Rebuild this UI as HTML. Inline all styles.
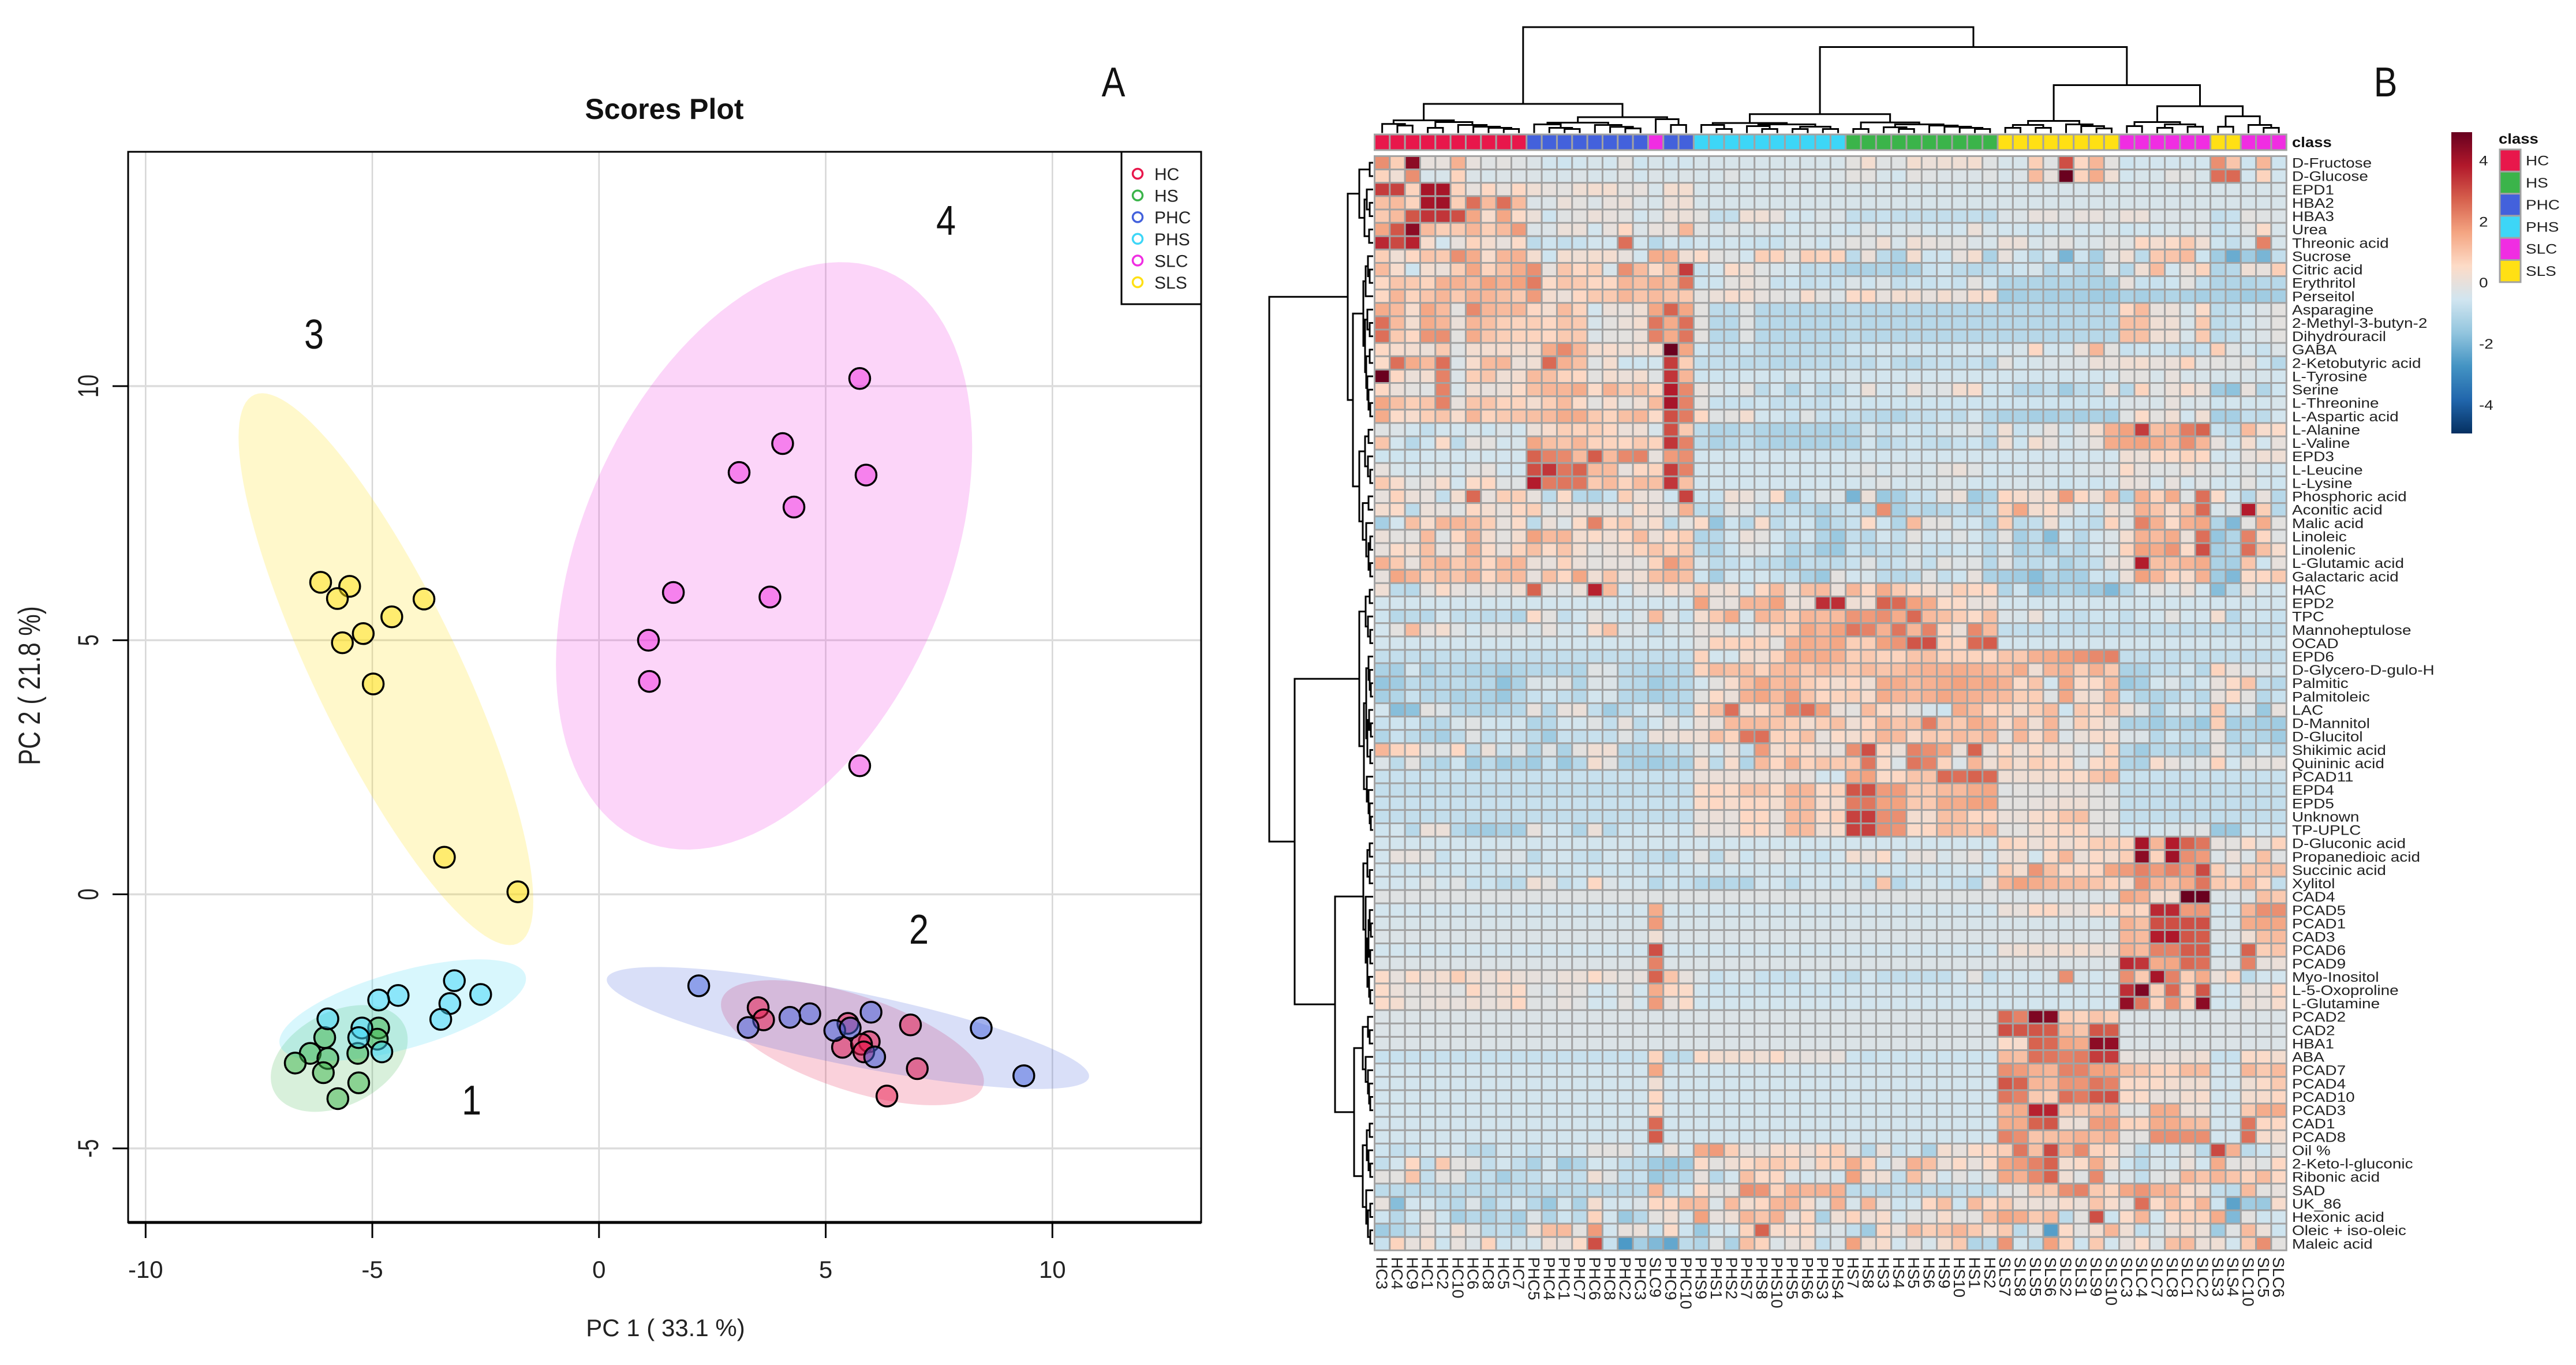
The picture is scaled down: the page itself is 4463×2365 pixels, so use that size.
<!DOCTYPE html>
<html lang="en">
<head>
<meta charset="utf-8">
<title>Scores Plot and Heatmap</title>
<style>
html,body{margin:0;padding:0;background:#fff;}
svg{display:block;font-family:"Liberation Sans",sans-serif;}
</style>
</head>
<body>
<svg id="figure" xmlns="http://www.w3.org/2000/svg" width="4463" height="2365" viewBox="0 0 4463 2365">
  <rect x="0" y="0" width="4463" height="2365" fill="#ffffff"/>
  <defs id="defs"></defs>
  <g id="pca"></g>
  <g id="heat"></g>
</svg>
<script>
/* ---------- PCA data ---------- */
const xTickValues=[-10,-5,0,5,10];
const yTickValues=[-5,0,5,10];
const groupNames=["HC","HS","PHC","PHS","SLC","SLS"];
const scoresHC=[[3.51,-2.23],[3.63,-2.47],[5.49,-2.54],[5.37,-3.01],[5.96,-2.90],[5.79,-2.95],[5.84,-3.10],[6.87,-2.57],[7.02,-3.43],[6.35,-3.97]];
const scoresHS=[[-4.86,-2.63],[-6.05,-2.82],[-5.32,-3.13],[-6.37,-3.13],[-5.98,-3.23],[-6.70,-3.32],[-6.08,-3.51],[-5.30,-3.71],[-5.76,-4.02],[-4.89,-2.85]];
const scoresPHC=[[2.2,-1.80],[4.65,-2.35],[4.21,-2.42],[3.29,-2.62],[6.0,-2.32],[5.2,-2.68],[5.54,-2.63],[6.08,-3.20],[8.43,-2.63],[9.37,-3.57]];
const scoresPHS=[[-3.19,-1.70],[-2.61,-1.97],[-4.43,-1.99],[-4.86,-2.08],[-3.29,-2.15],[-3.49,-2.46],[-5.98,-2.45],[-5.23,-2.63],[-5.30,-2.82],[-4.79,-3.10]];
const scoresSLC=[[5.75,10.15],[4.05,8.87],[3.09,8.3],[5.89,8.25],[4.30,7.62],[1.64,5.94],[3.77,5.85],[1.09,5],[1.11,4.19],[5.75,2.53]];
const scoresSLS=[[-6.14,6.14],[-5.5,6.06],[-5.77,5.82],[-3.86,5.81],[-4.57,5.46],[-5.2,5.13],[-5.66,4.95],[-4.98,4.14],[-3.41,0.73],[-1.79,0.05]];
/* confidence ellipses: centre x, centre y, half extent x, half extent y, correlation */
const ellipseHC=[5.59,-2.92,2.9,1.23,-0.61];
const ellipseHS=[-5.73,-3.23,1.51,1.05,0.35];
const ellipsePHC=[5.49,-2.63,5.32,1.2,-0.79];
const ellipsePHS=[-4.33,-2.28,2.72,1.0,0.62];
const ellipseSLC=[3.64,6.66,4.59,5.78,0.37];
const ellipseSLS=[-4.7,4.43,3.25,5.43,-0.84];

/* ---------- Heatmap data ---------- */
const rowLabels=["D-Fructose","D-Glucose","EPD1","HBA2","HBA3","Urea","Threonic acid","Sucrose","Citric acid","Erythritol","Perseitol","Asparagine","2-Methyl-3-butyn-2","Dihydrouracil","GABA","2-Ketobutyric acid","L-Tyrosine","Serine","L-Threonine","L-Aspartic acid","L-Alanine","L-Valine","EPD3","L-Leucine","L-Lysine","Phosphoric acid","Aconitic acid","Malic acid","Linoleic","Linolenic","L-Glutamic acid","Galactaric acid","HAC","EPD2","TPC","Mannoheptulose","OCAD","EPD6","D-Glycero-D-gulo-H","Palmitic","Palmitoleic","LAC","D-Mannitol","D-Glucitol","Shikimic acid","Quininic acid","PCAD11","EPD4","EPD5","Unknown","TP-UPLC","D-Gluconic acid","Propanedioic acid","Succinic acid","Xylitol","CAD4","PCAD5","PCAD1","CAD3","PCAD6","PCAD9","Myo-Inositol","L-5-Oxoproline","L-Glutamine","PCAD2","CAD2","HBA1","ABA","PCAD7","PCAD4","PCAD10","PCAD3","CAD1","PCAD8","Oil %","2-Keto-l-gluconic","Ribonic acid","SAD","UK_86","Hexonic acid","Oleic + iso-oleic","Maleic acid"];
const columnLabels=["HC3","HC4","HC9","HC1","HC2","HC10","HC6","HC8","HC5","HC7","PHC5","PHC4","PHC1","PHC7","PHC6","PHC8","PHC2","PHC3","SLC9","PHC9","PHC10","PHS9","PHS1","PHS2","PHS7","PHS8","PHS10","PHS5","PHS6","PHS3","PHS4","HS7","HS8","HS3","HS4","HS5","HS6","HS9","HS10","HS1","HS2","SLS7","SLS8","SLS5","SLS6","SLS2","SLS1","SLS9","SLS10","SLC3","SLC4","SLC7","SLC8","SLC1","SLC2","SLS3","SLS4","SLC10","SLC5","SLC6"];
const colorbarTicks=[4,2,0,-2,-4];
/* values are z-scores multiplied by ten */
const heatValues=[
[20,8,44,0,0,14,0,-2,-1,-2,-3,-5,-6,-5,-4,-5,-1,-6,-4,-5,-5,-4,-4,-4,-4,-4,-4,-4,-4,-4,-4,-1,3,-2,-2,3,1,2,2,3,-2,-4,-4,8,-2,30,6,13,-1,-6,-5,-5,-5,-5,-5,20,10,-6,13,-6],
[7,2,20,-4,-4,7,-3,-4,-3,-3,-3,-4,-4,-3,-4,-4,-2,-5,-3,-4,-3,-4,-4,-2,-4,-4,-4,-3,-3,-4,-3,-1,-1,-4,-5,-1,-2,-3,-3,-3,-2,-4,-3,12,0,49,7,15,2,-5,-4,-4,-1,-2,-4,25,26,-5,7,-5],
[33,32,7,40,40,7,0,6,0,6,2,0,-1,2,3,3,-1,0,-4,3,3,-4,-4,-4,-4,-4,-4,-4,-4,-4,-4,-4,-4,-4,-4,-4,-4,-4,-4,-4,-4,-4,-4,-4,-4,-4,-4,-4,-4,-4,-4,-4,-4,-4,-4,-4,-4,-4,-4,-4],
[11,12,7,40,41,8,25,12,25,12,-3,-3,1,-1,-3,0,1,-3,-4,1,2,-4,-4,-4,-4,-4,-4,-4,-4,-4,-4,-4,-4,-4,-4,-4,-4,-4,-4,-4,-4,-4,-4,-4,-4,-4,-4,-4,-4,-4,-4,-4,-4,-4,-4,-4,-4,-4,-4,-4],
[9,12,29,34,34,30,16,4,16,5,1,-6,-2,-1,1,0,-1,-5,-3,1,1,-1,-8,-8,2,2,0,-5,-5,-3,-3,-8,-8,-7,-8,-8,-8,-8,-8,-8,-9,-3,-3,0,0,-2,0,0,-2,1,1,-3,-3,-3,-3,-8,-7,-1,-2,-3],
[16,29,44,12,8,9,13,8,12,18,-3,-3,1,1,-5,0,6,-3,0,0,13,-2,-4,-2,-4,-3,-5,-5,-4,-4,-5,-6,-2,-5,-4,-3,-5,-5,-5,1,-4,-5,-5,-6,-5,-5,-5,-5,-4,-6,-5,-5,-4,-4,-3,-7,-6,-2,5,-4],
[36,31,37,4,-5,0,7,3,0,5,-9,-6,-8,-7,-5,-5,25,-5,-10,-5,-7,-5,-6,-5,-6,-7,-7,-4,-4,-6,-3,-1,-2,2,-4,2,0,-1,-1,-3,-4,1,1,-4,-2,-1,-4,-3,-1,-2,6,3,5,9,2,-6,-8,-4,22,-4],
[8,2,6,10,9,20,15,4,13,14,3,-6,3,2,3,3,0,-5,15,14,2,5,-1,-2,-5,8,7,-1,8,7,7,-9,1,-9,-12,3,-6,-6,0,3,-12,0,-5,-9,-5,-20,-6,-13,-2,2,-9,9,10,12,-6,-14,-22,-14,-20,-8],
[12,4,-6,3,1,8,16,7,11,15,20,0,10,6,8,-4,20,12,5,11,33,-7,-5,5,2,-2,-4,-5,-9,-8,-10,-12,-12,-11,-13,-12,-7,-6,-9,-10,-9,-7,-6,-4,-10,-7,-10,-11,-3,-10,2,12,-5,1,7,-11,-10,2,0,8],
[6,10,9,7,14,14,12,17,14,17,23,5,10,9,6,6,13,11,14,11,24,-6,-6,-1,1,-1,-7,-6,-8,-7,-7,-3,-6,-3,-8,-6,-7,-6,-7,-1,-6,-11,-11,-11,-11,-11,-11,-12,-12,0,-7,-7,-6,-1,-8,-11,-11,-11,-10,-10],
[6,13,7,10,13,9,14,13,11,9,18,3,1,6,9,9,13,10,12,10,9,-1,1,4,3,0,-1,-2,4,-1,-3,5,6,0,3,3,0,3,0,4,4,-14,-13,-12,-13,-13,-13,-14,-14,-12,-13,-12,-11,-12,-13,-12,-13,-14,-14,-13],
[15,12,4,16,12,-1,21,13,12,13,6,3,12,7,-5,1,0,2,16,27,16,-1,-9,-9,-2,-10,-10,-10,-10,-10,-10,-9,-10,-10,-10,-10,-10,-10,-10,-10,-10,-10,-10,-10,-10,-10,-10,-10,-10,6,12,0,1,-4,5,-9,-8,-5,-3,-1],
[25,12,3,15,13,1,13,11,8,7,8,6,10,9,-4,-1,1,3,24,15,25,-1,-10,-10,-2,-10,-10,-10,-10,-10,-10,-9,-10,-10,-10,-10,-10,-10,-10,-10,-10,-10,-10,-10,-10,-10,-10,-10,-10,11,11,2,2,-4,9,-9,-8,-5,-3,-1],
[25,9,6,19,20,-1,15,10,8,7,7,6,9,9,-3,-1,-1,1,22,15,24,-1,-10,-10,-2,-10,-10,-10,-10,-10,-10,-9,-10,-10,-10,-10,-10,-10,-10,-10,-10,-10,-10,-10,-10,-10,-10,-10,-10,11,11,2,2,-4,9,-9,-8,-4,-3,-1],
[6,4,3,1,9,-2,3,3,4,3,3,15,21,13,3,4,2,3,4,49,16,-6,-8,-8,-7,-9,-9,-9,-9,-9,-9,-6,-6,-5,-6,-5,-6,-6,-5,-5,-5,-5,-4,6,-5,-5,1,13,-1,-7,-6,-6,-7,-8,-7,8,-2,-5,-7,-3],
[5,25,15,12,25,-3,4,12,13,1,2,26,14,11,-2,3,-6,-6,-5,33,8,-8,-8,-8,-9,-9,-10,-10,-9,-9,-9,-8,-9,-6,-9,-10,-8,-7,-8,-7,-10,-1,-5,-4,-3,-3,-3,1,0,2,3,0,1,7,-2,-1,-2,-1,-6,-10],
[49,6,1,3,22,-3,8,10,2,3,12,11,7,6,-1,3,1,3,-2,34,13,-6,-6,-6,-5,-5,-6,-4,-5,-6,-4,-4,-5,-5,-5,-5,-5,-5,-5,-5,-5,-5,-5,-5,-5,-5,-5,-5,-5,-1,-1,-4,0,-4,-4,-4,-4,-4,-4,-5],
[6,1,-1,-2,22,-4,2,0,1,5,11,13,13,15,5,14,9,11,6,38,21,0,-3,-5,-1,-9,-5,-11,-5,-9,-9,-5,1,-5,-5,1,-3,-2,3,4,-6,-6,-10,-10,-8,-14,-9,-8,1,-10,7,-2,1,4,1,-14,-17,0,-11,-6],
[16,11,8,10,22,0,10,10,7,7,3,8,12,5,-1,4,-1,2,12,40,22,-1,-7,-7,-7,-6,-8,-7,-7,-8,-6,-5,-6,-6,-6,-6,-6,-6,-6,-6,-6,-6,-6,-6,-6,-6,-6,-6,-6,-3,-3,-4,0,-4,-3,-6,-5,-5,-5,-4],
[15,5,4,8,10,4,13,7,9,10,11,12,15,15,9,7,11,13,5,30,23,6,-2,-1,3,-5,-5,-7,-2,-7,-7,-8,-9,-10,-11,-8,-8,-7,-9,-5,-10,-12,-12,-13,-13,-12,-13,-12,-13,-2,5,-1,2,-5,2,-13,-13,-8,-9,-5],
[-2,-3,-5,-8,-5,-5,-4,-6,-3,-5,1,4,8,7,8,6,1,2,-4,30,9,-9,-11,-11,-9,-11,-12,-12,-11,-12,-12,-11,-4,-8,-5,-6,-7,-4,-4,-2,-8,2,-7,-4,0,-6,-2,3,14,17,33,11,13,23,27,-7,-9,12,4,5],
[10,-5,-10,-6,5,-9,0,-1,-5,-4,16,11,10,13,7,7,6,9,7,34,22,-9,-12,-10,-8,-11,-12,-12,-12,-12,-11,-12,-5,-10,-8,-6,-8,-9,-7,-6,-10,2,-6,3,0,-5,-3,0,15,16,17,15,12,20,13,0,-6,3,-5,0],
[-6,-6,-6,-5,-5,-5,-5,-5,-5,-5,27,22,21,12,28,12,21,22,0,18,20,-5,-5,-5,-5,-5,-5,-5,-5,-5,-5,-5,-5,-5,-5,-5,-5,-5,-5,-5,-5,-5,-5,-5,-5,-5,-5,-5,-5,2,1,5,5,7,6,-5,-5,0,2,2],
[0,-4,-5,-4,-3,-5,-2,0,-5,-5,30,34,24,27,12,12,0,6,7,33,22,-5,-5,-5,-5,-5,-5,-5,-5,-5,-5,-4,-2,-5,-3,-4,-4,-1,1,-2,-5,-5,-5,-4,-4,-5,-4,-3,-3,5,0,-2,-2,1,-2,-2,-5,-2,-5,-5],
[9,4,-2,0,4,-5,5,6,-2,-2,38,23,24,24,9,12,7,12,11,34,11,-5,-5,-5,-5,-5,-5,-5,-5,-5,-5,-5,-4,-2,-5,-4,-4,-3,-4,-5,-6,-4,-4,-4,-5,-6,-5,-6,-5,1,0,-5,0,-5,-2,-5,-5,-1,-5,-6],
[0,7,1,0,-8,3,26,0,8,8,0,-9,5,-10,-11,-7,8,1,0,-6,32,-6,-7,2,1,-3,5,-13,-6,-3,-3,-20,1,-15,-13,-7,-7,-1,1,-14,-11,6,4,2,4,18,6,1,12,-11,14,7,15,-2,25,5,-5,-10,0,-10],
[3,5,-9,1,0,-2,6,3,0,6,8,-2,1,0,0,-1,-2,4,1,-1,14,-9,-9,-1,-3,-8,-8,-8,-9,-12,-8,-7,-10,20,-13,-9,-11,-10,-8,-11,-9,8,16,3,5,0,-5,-7,2,-1,14,10,4,11,26,-4,-2,38,8,-10],
[-13,-5,11,4,13,13,12,8,0,5,-9,1,-3,5,22,6,9,1,4,-9,-1,5,-16,-6,-10,4,-9,-6,-6,-13,-9,-7,5,-6,-11,12,-1,-1,-6,-5,-11,8,-9,-8,2,-6,-7,-9,7,-2,22,14,5,14,16,-11,-19,-1,15,-1],
[1,-1,-1,12,-2,6,14,3,-1,3,17,12,13,3,5,2,5,12,1,6,8,-11,-10,-5,1,-1,-5,-9,-5,-11,-15,-8,-10,-5,-8,-1,-5,-5,-2,-5,-9,-1,-13,-9,-18,-5,-10,-5,-3,3,14,12,15,1,25,-16,-11,22,6,-2],
[0,5,3,11,0,2,14,5,0,7,11,5,10,3,-1,1,2,7,10,7,9,-9,-11,-6,-2,-3,-6,-11,-9,-14,-15,-7,-10,-8,-9,-4,-7,-7,-6,-5,-10,-4,-12,-9,-13,-8,-10,-5,-4,7,17,15,19,5,30,-13,-11,25,11,4],
[14,9,0,11,13,9,12,6,12,13,1,0,7,1,-1,0,0,-1,7,18,12,-4,-9,-8,-6,-9,-9,-13,-8,-9,-9,-7,-2,-8,-7,-3,-8,-1,-3,-2,-10,-2,-9,-9,-7,-12,-9,-8,0,1,38,11,11,13,15,-12,-13,10,-6,0],
[0,16,13,8,11,10,14,6,11,12,0,11,6,16,2,10,1,2,11,13,11,-6,-13,-5,-6,-5,-7,-8,-12,-15,-1,-5,-4,-9,-10,-9,-2,-8,-6,0,-12,-13,-14,-18,-11,-13,-13,-6,-7,1,17,13,7,4,14,-14,-19,5,6,9],
[2,-9,-10,-1,5,0,-2,0,-2,2,27,-1,-3,1,37,12,-5,0,-1,4,0,9,1,3,-5,6,12,1,11,12,1,13,6,15,9,5,3,1,8,6,6,-11,-6,-16,-13,-11,-13,-14,-19,-10,-5,-1,-4,1,-5,-18,-9,1,-5,-5],
[-5,-5,-5,-5,-5,-5,-5,-5,-5,-5,-5,-5,-5,-5,-5,-5,-5,-5,-5,-5,-5,17,0,0,13,13,17,1,1,35,35,2,2,27,26,17,15,5,5,0,1,-5,-5,-5,-5,-5,-5,-5,-5,-5,-5,-5,-5,-5,-5,-5,-5,-5,-5,-5],
[-6,-10,-9,-10,-5,-8,-8,-9,-8,-11,5,-1,-8,-5,-1,-4,-6,-3,12,-2,-7,3,9,15,-4,13,11,8,13,12,12,19,18,20,15,26,12,11,8,5,11,-3,-4,1,-5,-7,-8,-6,-6,-8,-5,-5,-1,-5,-5,3,-10,-5,-6,-7],
[-5,-1,12,0,3,-2,-5,-2,-2,-2,-4,0,-4,-5,4,11,-3,-3,-8,-4,-4,0,-1,-4,-4,0,7,8,16,13,17,24,22,14,24,13,22,6,1,21,12,-8,-8,-8,-8,-8,-8,-8,-8,-8,-8,-8,-8,-8,-8,-8,-8,-8,-8,-8],
[-5,-5,-5,-5,-5,-5,-5,-5,-5,-5,-5,-5,-5,-5,-5,-5,-5,-5,-5,-5,-5,-1,7,7,7,7,-1,14,15,14,16,8,8,17,19,29,30,7,6,26,28,-5,-5,-5,-5,-5,-5,-5,-5,-5,-5,-5,-5,-5,-5,-5,-5,-5,-5,-5],
[-8,-8,-8,-8,-8,-8,-8,-8,-8,-8,-8,-8,-8,-8,-8,-8,-8,-8,-8,-8,-8,7,-5,-5,3,2,7,15,15,15,14,8,9,7,7,10,11,7,7,7,6,10,9,14,15,17,19,21,22,-8,-8,-8,-8,-8,-8,-8,-8,-8,-8,-8],
[-12,-13,-5,-12,-9,-10,-11,-11,-13,-11,-10,-10,-10,-11,-2,-3,-9,-10,-11,-10,-10,7,12,11,11,7,12,12,9,12,10,9,12,10,11,13,14,14,15,14,13,11,15,2,13,14,8,14,9,-12,-12,-8,-8,-5,-10,7,0,-3,-3,-5],
[-16,-14,-9,-10,-10,-9,-10,-10,-17,-12,-3,-4,-2,-11,-3,-3,-9,-10,-14,-11,-10,-5,-1,4,11,16,12,14,8,6,3,6,2,15,15,12,14,15,17,15,16,14,5,10,-5,16,5,5,12,-15,-13,-5,-3,-8,-5,0,5,10,-8,-10],
[-13,-11,-7,-10,-10,-12,-11,-12,-15,-10,-7,-6,-8,-10,-5,-4,-10,-11,-13,-11,-10,-1,5,1,14,16,12,18,10,6,7,8,4,15,13,12,14,16,15,14,13,12,8,8,-2,16,3,2,12,-7,-11,-11,-10,-7,-10,0,5,-1,-10,-7],
[-5,-18,-17,-1,-3,-10,-11,-11,-10,-10,0,-10,0,1,-8,-14,-9,-6,-3,-9,-10,5,11,25,3,5,10,21,25,17,1,-1,12,5,3,-1,-4,-6,15,12,6,7,3,8,12,-6,9,5,10,2,-2,-12,-5,-3,-7,9,-7,-3,-15,0],
[-7,-6,-6,-9,-10,-4,-2,-5,-6,-5,-11,-10,-5,-5,-2,-8,0,-9,-5,-1,-5,1,0,12,12,12,10,8,3,8,11,2,6,13,10,11,23,10,9,15,13,4,12,2,13,-2,8,4,1,-12,-12,-14,-11,-12,-15,8,-13,-12,-13,-14],
[-11,-7,-9,-11,-13,-9,-2,-8,-6,-8,-9,-14,-7,-8,-7,-8,-2,-8,1,1,2,2,11,7,24,25,7,7,11,0,5,3,7,13,12,4,9,8,12,10,13,-1,13,4,12,-3,1,4,4,-3,-3,-10,-6,-8,-8,0,-11,-9,-11,-14],
[13,7,6,-1,-2,6,-9,1,-7,-2,-11,-2,-12,-1,2,2,-11,-11,-11,-9,-8,-1,-5,1,-8,18,3,7,4,1,0,20,30,6,1,22,20,16,1,27,0,6,1,5,1,2,-3,-3,7,-10,-14,-10,-10,-11,-12,0,-8,-11,-6,-10],
[-3,-9,-1,-9,-11,-6,-14,-9,-14,-12,-14,-7,-15,-10,3,-1,-11,-13,-14,-12,-12,3,-9,4,-11,12,6,14,7,10,9,9,24,5,-3,24,22,7,-3,13,2,8,3,8,6,5,-3,5,7,-11,-12,4,0,-3,-2,7,-5,-1,-1,0],
[-7,-7,-7,-7,-7,-7,-7,-7,-7,-7,-7,-7,-7,-7,-7,-7,-7,-7,-7,-7,-7,1,1,1,1,1,1,0,0,-5,-5,15,17,5,6,10,10,26,25,27,26,2,2,3,3,5,5,10,12,-7,-7,-7,-7,-7,-7,-7,-7,-7,-7,-7],
[-8,-8,-8,-8,-8,-8,-8,-8,-8,-8,-8,-8,-8,-8,-8,-8,-8,-8,-8,-8,-8,5,6,5,10,10,5,13,13,5,7,29,30,18,18,9,9,12,12,15,16,-2,-1,-1,-1,0,0,-1,-2,-8,-8,-8,-8,-8,-8,-8,-8,-8,-8,-8],
[-7,-7,-7,-7,-7,-7,-7,-7,-7,-7,-7,-7,-7,-7,-7,-7,-7,-7,-7,-7,-7,5,6,4,6,6,3,12,12,4,3,23,24,17,17,9,9,15,15,17,17,-1,-1,0,1,2,2,-1,-1,-8,-8,-8,-8,-8,-8,-8,-8,-8,-8,-8],
[-8,-8,-8,-8,-8,-8,-8,-8,-8,-8,-8,-8,-8,-8,-8,-8,-8,-8,-8,-8,-8,0,1,0,6,6,0,12,12,5,7,32,33,20,20,3,3,11,11,6,6,1,1,4,5,10,11,-1,-1,-8,-8,-8,-8,-8,-8,-8,-8,-8,-8,-8],
[-6,-5,-10,1,1,-10,-13,-14,-12,-13,0,-5,-6,-11,1,-10,-6,-6,-5,-5,-6,1,0,0,6,6,0,12,12,2,4,32,32,20,19,5,6,12,11,9,12,-1,-1,3,4,6,6,-1,-1,-6,-6,-5,-4,-3,-2,-15,-15,-6,-6,-7],
[-5,-5,-5,-5,-5,-5,-5,-5,-5,-5,-5,-5,-5,-5,-5,-5,-5,-5,-5,-5,-5,-5,-5,-5,-5,-5,-5,-5,-5,-5,-5,-5,-5,-5,-5,-5,-5,-5,-5,-5,-5,7,5,1,5,2,5,8,8,7,40,13,38,27,24,0,-1,5,-1,7],
[-5,0,0,-1,-7,-5,-5,-7,-3,-3,-9,-5,-5,-7,-8,-5,-5,-8,-8,-10,-5,-1,-9,-1,-6,-3,-1,-4,-6,-7,-5,3,1,5,-5,0,0,-4,-2,0,-5,1,2,-5,5,13,1,5,3,8,44,7,41,20,18,-3,1,-3,11,-2],
[-5,-6,-6,-6,-6,-6,-6,-6,-6,-6,-6,-6,-6,-6,-6,-6,-6,-6,-6,-6,-6,-5,-5,-5,-5,-5,-5,-5,-5,-5,-5,-6,-6,-6,-6,-6,-6,-6,-5,-5,-6,8,3,19,11,5,6,6,16,18,22,18,22,18,31,8,-2,9,10,11],
[-5,-5,-5,-2,-5,-2,-7,-6,-9,-9,2,-1,-8,-6,6,-3,-5,-5,-10,-6,-7,-10,-11,-10,-11,-5,-5,-9,-5,-5,-6,-4,-8,10,-10,-6,-4,-6,-7,-10,0,13,17,15,13,12,12,10,7,3,20,13,11,15,24,9,7,13,6,-8],
[-2,-2,-2,-2,-2,-2,-2,-2,-2,-2,-2,-2,-2,-2,-2,-2,-2,-2,-2,-2,-2,-2,-2,-2,-2,-2,-2,-2,-2,-2,-2,-2,-2,-2,-2,-2,-2,-2,-2,-2,-2,-3,-3,-3,-3,-3,-3,-3,-3,16,14,3,3,49,49,-3,-3,-3,11,9],
[-5,-5,-5,-5,-5,-5,-5,-5,-5,-5,-5,-5,-5,-5,-5,-5,-5,-5,15,-5,-5,-5,-5,-5,-5,-5,-5,-5,-5,-5,-5,-5,-5,-5,-5,-5,-5,-5,-5,-5,-5,1,0,5,6,1,0,5,6,7,6,36,36,18,19,-5,-5,13,20,20],
[-4,-4,-4,-4,-4,-4,-4,-4,-4,-4,-4,-4,-4,-4,-4,-4,-4,-4,18,-4,-4,-4,-4,-4,-4,-4,-4,-4,-4,-4,-4,-4,-4,-4,-4,-4,-4,-4,-4,-4,-4,-4,-4,-4,-4,-4,-4,-4,-4,14,11,30,30,30,30,-4,-4,15,16,16],
[-3,-3,-3,-3,-3,-3,-3,-3,-3,-3,-3,-3,-3,-3,-3,-3,-3,-3,2,-3,-3,-3,-3,-3,-3,-3,-3,-3,-3,-3,-3,-3,-3,-3,-3,-3,-3,-3,-3,-3,-3,-3,-3,-3,-3,-3,-3,-3,-3,13,12,38,39,29,28,-3,-3,2,11,12],
[-5,-5,-5,-5,-5,-5,-5,-5,-5,-5,-5,-5,-5,-5,-5,-5,-5,-5,30,-5,-5,-5,-5,-5,-5,-5,-5,-5,-5,-5,-5,-5,-5,-5,-5,-5,-5,-5,-5,-5,-5,1,2,2,2,3,3,2,1,14,12,22,22,28,28,-5,-5,27,8,10],
[-3,-3,-3,-3,-3,-3,-3,-3,-3,-3,-3,-3,-3,-3,-3,-3,-3,-3,22,-3,-3,-3,-3,-3,-3,-3,-3,-3,-3,-3,-3,-3,-3,-3,-3,-3,-3,-3,-3,-3,-3,-3,-3,-3,-3,-3,-3,-3,-3,36,34,15,16,26,25,-3,-3,22,0,1],
[5,0,5,2,3,8,3,1,4,1,0,-1,1,1,5,1,-1,0,27,10,0,-3,-7,-5,-4,-7,-7,-8,-5,-4,-7,-9,-5,-8,-8,-8,-8,-8,-5,-1,-8,-5,-5,-5,-4,20,-4,-5,-4,20,9,40,22,8,15,1,7,-9,-5,-5],
[5,1,-1,0,0,-2,6,0,3,5,-2,-3,0,-1,-5,-5,-1,-5,15,6,5,-5,-6,-6,-6,-6,-6,-6,-6,-6,-6,-5,-5,-5,-5,-5,-5,-5,-5,-5,-5,-5,-5,-5,-5,-5,-5,-5,-5,35,46,8,26,7,29,-5,-5,1,0,6],
[5,3,-1,0,1,0,2,0,2,6,-2,-2,0,-2,-5,-5,-1,-5,18,0,5,-5,-5,-5,-5,-5,-5,-5,-5,-5,-5,-5,-5,-5,-5,-5,-5,-5,-5,-5,-5,-5,-5,-5,-5,-5,-5,-5,-5,43,24,7,20,7,44,-5,-5,1,0,4],
[-3,-3,-3,-3,-3,-3,-3,-3,-3,-3,-3,-3,-3,-3,-3,-3,-3,-3,-3,-3,-3,-3,-3,-3,-3,-3,-3,-3,-3,-3,-3,-3,-3,-3,-3,-3,-3,-3,-3,-3,-3,26,22,46,45,8,7,10,8,-3,-3,-3,-3,-3,-3,-3,-3,-3,-3,-3],
[-3,-3,-3,-3,-3,-3,-3,-3,-3,-3,-3,-3,-3,-3,-3,-3,-3,-3,-3,-3,-3,-3,-3,-3,-3,-3,-3,-3,-3,-3,-3,-3,-3,-3,-3,-3,-3,-3,-3,-3,-3,30,29,29,28,12,10,29,28,-3,-3,-3,-3,-3,-3,-3,-3,-3,-3,-3],
[-3,-3,-3,-3,-3,-3,-3,-3,-3,-3,-3,-3,-3,-3,-3,-3,-3,-3,-3,-3,-3,-3,-3,-3,-3,-3,-3,-3,-3,-3,-3,-3,-3,-3,-3,-3,-3,-3,-3,-3,-3,5,4,27,26,16,15,44,43,-3,-3,-3,-3,-3,-3,-3,-3,-3,-3,-3],
[-7,-7,-7,-7,-7,-7,-7,-7,-7,-7,-7,-7,-7,-7,-7,-7,-7,-7,7,-9,-9,5,3,3,3,2,5,0,0,0,0,-6,-7,-6,-6,-6,-6,-6,-6,-6,-6,12,11,25,24,22,23,33,33,0,-1,0,0,1,2,-7,-7,5,5,3],
[-5,-5,-5,-5,-5,-5,-5,-5,-5,-5,-5,-5,-5,-5,-5,-5,-5,-5,16,-5,-5,-5,-5,-5,-5,-5,-5,-5,-5,-5,-5,-5,-5,-5,-5,-5,-5,-5,-5,-5,-5,20,18,14,13,22,22,17,17,11,10,7,7,12,12,-5,-5,13,9,12],
[-5,-5,-5,-5,-5,-5,-5,-5,-5,-5,-5,-5,-5,-5,-5,-5,-5,-5,2,-5,-5,-5,-5,-5,-5,-5,-5,-5,-5,-5,-5,-5,-5,-5,-5,-5,-5,-5,-5,-5,-5,29,27,13,12,19,19,24,22,5,5,5,3,2,3,-5,-5,2,5,9],
[-5,-5,-5,-5,-5,-5,-5,-5,-5,-5,-5,-5,-5,-5,-5,-5,-5,-5,6,-5,-5,-5,-5,-5,-5,-5,-5,-5,-5,-5,-5,-5,-5,-5,-5,-5,-5,-5,-5,-5,-5,24,22,9,8,25,23,29,30,5,5,0,0,3,4,-5,-5,3,4,6],
[-5,-5,-5,-5,-5,-5,-5,-5,-5,-5,-5,-5,-5,-5,-5,-5,-5,-5,6,-5,-5,-5,-5,-5,-5,-5,-5,-5,-5,-5,-5,-5,-5,-5,-5,-5,-5,-5,-5,-5,-5,13,15,37,37,9,9,12,14,-2,-2,15,15,1,1,-5,-5,9,15,15],
[-5,-5,-5,-5,-5,-5,-5,-5,-5,-5,-5,-5,-5,-5,-5,-5,-5,-5,26,-5,-5,-5,-5,-5,-5,-5,-5,-5,-5,-5,-5,-5,-5,-5,-5,-5,-5,-5,-5,-5,-5,15,15,27,29,2,1,18,18,7,7,15,15,12,11,-5,-5,24,6,6],
[-5,-5,-5,-5,-5,-5,-5,-5,-5,-5,-5,-5,-5,-5,-5,-5,-5,-5,28,-5,-5,-5,-5,-5,-5,-5,-5,-5,-5,-5,-5,-5,-5,-5,-5,-5,-5,-5,-5,-5,-5,22,20,10,11,12,14,12,14,-1,-1,20,20,20,20,-5,-5,25,4,3],
[-6,-8,-7,-5,-5,-5,-9,-10,-5,-6,-7,-5,-5,-5,-1,-1,-1,-5,-6,1,-5,15,18,8,0,-1,4,4,1,6,8,-2,-10,1,-7,-5,-12,3,0,5,6,8,24,11,31,13,21,7,6,-2,-9,-5,-6,-1,-9,31,14,-9,-6,-1],
[-8,-5,6,-8,9,-1,-1,-8,-5,-8,-12,-5,-14,-11,-5,-5,-8,-9,-14,-15,-14,5,-1,2,5,8,9,7,-1,7,7,15,7,-5,0,14,11,1,5,0,5,16,18,22,27,3,5,15,3,-6,-10,-4,-5,1,-5,15,-1,0,-2,6],
[-1,-1,10,-8,-1,-1,-9,-8,-13,-9,-8,-5,-8,-8,2,-2,-8,-7,-15,-12,-10,0,-10,-5,11,5,6,-4,-5,-3,-5,17,3,2,-8,11,2,-5,-1,-4,-1,16,14,21,27,2,-2,21,-3,-3,-8,-2,-1,13,10,13,10,7,12,6],
[-9,-9,-9,-9,-9,-9,-9,-9,-9,-9,-9,-9,-9,-9,-9,-9,-9,-9,13,-8,-6,6,-1,-1,20,19,7,14,13,14,14,-9,-9,-10,-8,-9,-9,-9,-8,-8,-9,-2,-1,9,9,20,22,9,7,16,19,14,13,4,2,-8,-9,12,-1,0],
[0,-18,-5,-5,-8,-10,-3,-12,-7,-5,-10,-15,-5,-12,3,-5,-5,-3,6,6,12,12,-3,12,3,6,13,13,4,-3,14,-4,13,0,-6,-5,6,11,-6,12,5,9,1,1,1,4,1,10,4,0,25,5,11,6,13,-6,-24,-14,-15,4],
[-6,-10,-6,-1,-6,-13,-10,-12,-9,-13,-3,-11,-6,-9,7,-5,-15,-10,-1,2,-4,17,0,2,13,10,14,0,6,-12,2,7,1,4,-5,-1,-1,4,-1,-1,11,16,15,9,12,-9,-1,30,-6,5,13,-5,6,7,7,15,-19,-1,-6,-5],
[-14,-11,-8,0,-5,2,-2,-9,-8,-11,2,11,12,-1,18,-5,0,1,-7,5,-6,-15,-5,-5,7,27,4,5,5,-3,-3,-8,-14,6,1,12,8,10,13,9,3,9,-9,-1,-25,5,-1,3,13,2,-8,-4,0,3,1,-14,-2,12,1,-6],
[-7,7,0,3,-6,0,-3,7,-6,-4,-5,2,0,5,30,-7,-26,-13,-19,-23,-9,-11,-2,-12,11,7,-3,0,3,-8,-3,17,2,4,-5,0,-4,3,9,-11,-10,19,-5,-9,17,7,-6,9,-5,0,5,-3,11,12,1,2,-5,9,20,-1]
];
/* dendrograms: [merge height, child, child]; numbers are leaf indices */
const columnTree=[183.5,
 [50.5,
  [22,[15.7,0,[13,1,2]],[19,[9,3,4],[14,5,[11,6,[9,7,[7,8,9]]]]]],
  [27.5,[18,[15,10,[9,11,[7,12,13]]],[14,14,[10.7,15,[8,16,17]]]],[24,18,[14,19,20]]]],
 [149,
  [32.7,
   [17.4,[14,21,[7,22,23]],[15,[12,24,[7,25,26]],[11,[7,27,28],[7,29,30]]]],
   [18.4,[7,31,32],[15,[10,33,[7,34,35]],[13,36,[11,37,[9,38,[7,39,40]]]]]]],
  [83,
   [21,[14,[9,41,42],[9,43,44]],[15,45,[12,46,[8,47,48]]]],
   [46.5,
    [19,[12,49,50],[15,[9,51,52],[11,53,54]]],
    [29,[11,55,56],[14,57,[9,58,59]]]]]]];
const rowTree=[180,
 [44,
  [24,[6,0,1],[15,[11,2,[6,3,4]],[7,5,6]]],
  [35,
   [17,[13,[9,7,[6,8,9]],10],[14,[10,11,[6,12,13]],[12,[6,14,15],[10,16,[8,17,[5,18,19]]]]]],
   [24,[14,[8,20,21],[9,22,[5,23,24]]],[18,[8,25,26],[12,27,[8,[5,28,29],[5,30,31]]]]]]],
 [136,
  [24,
   [13,[6,32,33],[9,34,[5,35,36]]],
   [16,[12,[8,37,[6,38,[4,39,40]]],[10,[7,41,[4,42,43]],[5,44,45]]],[11,46,[8,47,[6,48,[4,49,50]]]]]],
  [66,
   [17,
    [10,[6,51,52],[6,53,54]],
    [13,55,[10,[8,[6,56,[4,57,58]],[5,59,60]],[7,61,[5,62,63]]]]],
   [33,
    [18,[9,64,[6,65,66]],[13,67,[9,68,[7,69,[5,70,71]]]]],
    [18,[11,[6,72,73],[8,74,[5,75,76]]],[12,77,[9,[5,78,79],[5,80,81]]]]]]]];

/* ---------- helpers ---------- */
const NS='http://www.w3.org/2000/svg';
function make(tag,attrs,parent){
  const e=document.createElementNS(NS,tag);
  for(const k in attrs)e.setAttribute(k,attrs[k]);
  parent.appendChild(e);
  return e;
}
const pca=document.getElementById('pca');
const heat=document.getElementById('heat');
const defs=document.getElementById('defs');
const classColors={HC:'#e8174b',HS:'#3bb44a',PHC:'#4361dc',PHS:'#3dd6f7',SLC:'#f02de2',SLS:'#ffe014'};

/* axis functions */
const xScale=v=>1037.8+78.55*v;
const yScale=v=>1549.5-88.05*v;
const plotLeft=222,plotRight=2081,plotTop=263,plotBottom=2118;

/* grid */
xTickValues.forEach(v=>{
  const l=make('line',{x1:xScale(v),x2:xScale(v),y1:plotTop,y2:plotBottom,stroke:'#d6d6d6','stroke-width':2.5},pca);
  
  
});
yTickValues.forEach(v=>{
  const l=make('line',{x1:plotLeft,x2:plotRight,y1:yScale(v),y2:yScale(v),stroke:'#dcdcdc','stroke-width':3.5},pca);
  
  
});

/* ellipses */
const ellipses={HC:ellipseHC,HS:ellipseHS,PHC:ellipsePHC,PHS:ellipsePHS,SLC:ellipseSLC,SLS:ellipseSLS};
groupNames.forEach(g=>{
  const [cx,cy,sx,sy,r]=ellipses[g];
  const phi=Math.acos(r);
  let pts=[];
  for(let i=0;i<120;i++){
    const t=i/120*Math.PI*2;
    pts.push(xScale(cx+sx*Math.cos(t)).toFixed(1)+','+yScale(cy+sy*Math.cos(t-phi)).toFixed(1));
  }
  const p=make('polygon',{points:pts.join(' '),fill:classColors[g],'fill-opacity':g==='SLS'?0.22:0.2},pca);
  
  
});

/* points */
const scores={HC:scoresHC,HS:scoresHS,PHC:scoresPHC,PHS:scoresPHS,SLC:scoresSLC,SLS:scoresSLS};
groupNames.forEach(g=>{
  scores[g].forEach(pt=>{
    const c=make('circle',{cx:xScale(pt[0]),cy:yScale(pt[1]),r:18,fill:classColors[g],'fill-opacity':0.5,stroke:'#000','stroke-width':3.5},pca);
    
    
  });
});

/* box */
const box=make('rect',{x:plotLeft,y:plotTop,width:plotRight-plotLeft,height:plotBottom-plotTop,fill:'none',stroke:'#000','stroke-width':3},pca);


const floor=make('line',{x1:plotLeft,x2:plotRight,y1:plotBottom,y2:plotBottom,stroke:'#000','stroke-width':5},pca);



/* ticks */
xTickValues.forEach(v=>{
  const t=make('line',{x1:xScale(v),x2:xScale(v),y1:plotBottom,y2:plotBottom+27,stroke:'#000','stroke-width':3},pca);
  
  
  const s=make('text',{x:xScale(v),y:2214,'font-size':42,'text-anchor':'middle',fill:'#222'},pca);
  s.textContent=String(v);
  
  
});
yTickValues.forEach(v=>{
  const t=make('line',{x1:plotLeft-27,x2:plotLeft,y1:yScale(v),y2:yScale(v),stroke:'#000','stroke-width':3},pca);
  
  
  const s=make('text',{transform:'translate(170,'+yScale(v)+') rotate(-90) scale(0.9,1.25)','font-size':40,'text-anchor':'middle',fill:'#222'},pca);
  s.textContent=String(v);
  
  
});

/* titles */
const title=make('text',{x:1151,y:206,'font-size':50,'font-weight':'bold','text-anchor':'middle',fill:'#111'},pca);
title.textContent='Scores Plot';


const xTitle=make('text',{x:1153,y:2315,'font-size':42,'text-anchor':'middle',fill:'#222'},pca);
xTitle.textContent='PC 1 ( 33.1 %)';


const yTitle=make('text',{transform:'translate(69,1188) rotate(-90) scale(1,1.25)','font-size':42,'text-anchor':'middle',fill:'#222'},pca);
yTitle.textContent='PC 2 ( 21.8 %)';



/* plot legend */
const lgBox=make('rect',{x:1943,y:263,width:138,height:264,fill:'#fff',stroke:'#000','stroke-width':3},pca);


groupNames.forEach((g,i)=>{
  const yy=301+37.6*i;
  const c=make('circle',{cx:1971,cy:yy,r:8.5,fill:'none',stroke:classColors[g],'stroke-width':3.5},pca);
  
  
  const s=make('text',{x:2000,y:yy+11,'font-size':30,fill:'#222'},pca);
  s.textContent=g;
  
  
});

/* panel markers and cluster numbers */
const panelMarks=[['A',1929,167],['B',4133,167],['1',817,1931],['2',1592,1635],['3',544,604],['4',1639,407]];
panelMarks.forEach(m=>{
  const s=make('text',{transform:'translate('+m[1]+','+m[2]+') scale(0.85,1)','font-size':72,'text-anchor':'middle',fill:'#111'},m[0]==='B'?heat:pca);
  s.textContent=m[0];
  
  
});

/* ---------- heatmap ---------- */
const palette=['#053061','#2166ac','#4393c3','#92c5de','#d1e5f0','#fddbc7','#f4a582','#d6604d','#b2182b','#67001f'];
const zMin=-4.94,zMax=4.94;
function hex(c){return [parseInt(c.slice(1,3),16),parseInt(c.slice(3,5),16),parseInt(c.slice(5,7),16)];}
function colorFor(z){
  const t=Math.max(0,Math.min(0.99999,(z-zMin)/(zMax-zMin)))*(palette.length-1);
  const i=Math.floor(t),f=t-i,a=hex(palette[i]),b=hex(palette[i+1]);
  return 'rgb('+[0,1,2].map(k=>Math.round(a[k]+(b[k]-a[k])*f)).join(',')+')';
}
const heatLeft=2381.5,heatTop=270.5,colStep=26.33,rowStep=23.12;
const colX=c=>heatLeft+colStep*c;
const rowY=r=>heatTop+rowStep*r;
const borderGrey='#a2a2a2';

heatValues.forEach((row,r)=>{
  row.forEach((v,c)=>{
    const cell=make('rect',{x:colX(c).toFixed(2),y:rowY(r).toFixed(2),width:colStep,height:rowStep,fill:colorFor(v/10),stroke:borderGrey,'stroke-width':3},heat);
    
    
  });
});

/* class annotation */
columnLabels.forEach((lab,c)=>{
  const g=lab.replace(/[0-9]+$/,'');
  const a=make('rect',{x:colX(c).toFixed(2),y:233,width:colStep,height:27,fill:classColors[g],stroke:borderGrey,'stroke-width':3},heat);
  
  
  const s=make('text',{transform:'translate('+(colX(c)+colStep/2-10).toFixed(2)+',2178) rotate(90)','font-size':28,fill:'#222'},heat);
  s.textContent=lab;
  
  
});
rowLabels.forEach((lab,r)=>{
  const s=make('text',{transform:'translate(3971,'+(rowY(r)+rowStep/2+8.5).toFixed(2)+') scale(1.14,1)','font-size':24.5,fill:'#222'},heat);
  s.textContent=lab;
  
  
});
const classLabel=make('text',{transform:'translate(3971,255) scale(1.1,1)','font-size':25,'font-weight':'bold',fill:'#111'},heat);
classLabel.textContent='class';



/* dendrograms */
const dendroCol=make('g',{fill:'none',stroke:'#000','stroke-width':3},heat);


const dendroRow=make('g',{fill:'none',stroke:'#000','stroke-width':3},heat);


function drawColNode(n){
  if(typeof n==='number')return {x:colX(n)+colStep/2,h:0};
  const a=drawColNode(n[1]),b=drawColNode(n[2]);
  const base=230.5,yy=base-n[0];
  const p=make('path',{d:'M'+a.x+' '+(base-a.h)+'V'+yy+'H'+b.x+'V'+(base-b.h)},dendroCol);
  
  
  return {x:(a.x+b.x)/2,h:n[0]};
}
function drawRowNode(n){
  if(typeof n==='number')return {y:rowY(n)+rowStep/2,h:0};
  const a=drawRowNode(n[1]),b=drawRowNode(n[2]);
  const base=2379,xx=base-n[0];
  const p=make('path',{d:'M'+(base-a.h)+' '+a.y+'H'+xx+'V'+b.y+'H'+(base-b.h)},dendroRow);
  
  
  return {y:(a.y+b.y)/2,h:n[0]};
}
drawColNode(columnTree);
drawRowNode(rowTree);

/* colour bar */
const grad=make('linearGradient',{id:'cbar',x1:0,y1:1,x2:0,y2:0},defs);
palette.forEach((c,i)=>{
  make('stop',{offset:(i/(palette.length-1)),'stop-color':c},grad);
});
const cbarTop=229,cbarBottom=751;
const cbarScale=v=>489.7-52.9*v;
const cbar=make('rect',{x:4247,y:cbarTop,width:36,height:cbarBottom-cbarTop,fill:'url(#cbar)'},heat);


colorbarTicks.forEach(v=>{
  const s=make('text',{transform:'translate(4295,'+(cbarScale(v)+8.5)+') scale(1.14,1)','font-size':24.5,fill:'#222'},heat);
  s.textContent=String(v);
  
  
});

/* class legend */
const lt=make('text',{transform:'translate(4329,249) scale(1.1,1)','font-size':25,'font-weight':'bold',fill:'#111'},heat);
lt.textContent='class';


groupNames.forEach((g,i)=>{
  const yy=259+38.3*i;
  const r=make('rect',{x:4331,y:yy,width:36,height:38.3,fill:classColors[g],stroke:borderGrey,'stroke-width':3},heat);
  
  
  const s=make('text',{transform:'translate(4376,'+(yy+27.5)+') scale(1.14,1)','font-size':24.5,fill:'#222'},heat);
  s.textContent=g;
  
  
});
</script>
</body>
</html>
